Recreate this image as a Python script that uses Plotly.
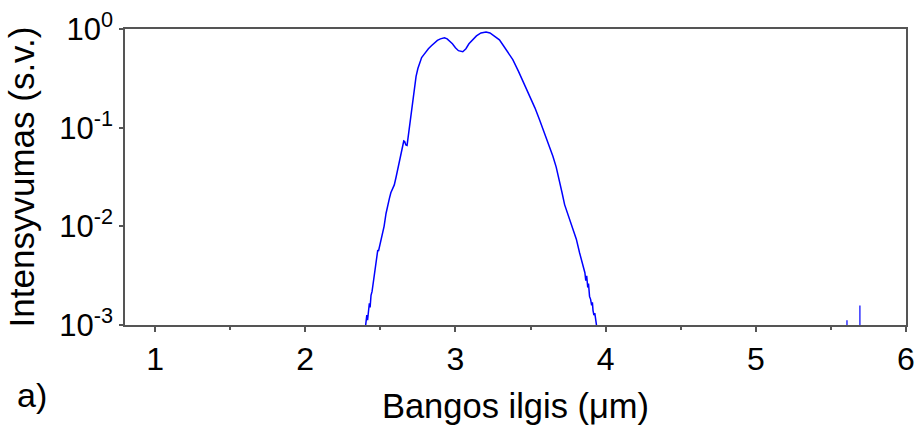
import plotly.graph_objects as go

# Wavelength (um) and intensity (arb. units) of the spectrum
wavelength = [
    2.395, 2.404, 2.410, 2.415, 2.420, 2.427, 2.432, 2.438, 2.445, 2.449,
    2.455, 2.460, 2.466, 2.471, 2.478, 2.483, 2.488, 2.493, 2.500, 2.508,
    2.516, 2.525, 2.538, 2.550, 2.560, 2.570, 2.580, 2.593, 2.605, 2.617,
    2.627, 2.638, 2.649, 2.656, 2.662, 2.670, 2.678, 2.686, 2.693, 2.705,
    2.716, 2.727, 2.738, 2.750, 2.760, 2.775, 2.790, 2.804, 2.820, 2.840,
    2.860, 2.880, 2.900, 2.927, 2.945, 2.960, 2.980, 3.000, 3.020, 3.049,
    3.070, 3.090, 3.116, 3.140, 3.170, 3.204, 3.230, 3.260, 3.293, 3.320,
    3.350, 3.382, 3.420, 3.460, 3.500, 3.530, 3.560, 3.600, 3.630, 3.649,
    3.671, 3.693, 3.710, 3.727, 3.750, 3.782, 3.805, 3.827, 3.850, 3.862,
    3.868, 3.874, 3.881, 3.886, 3.893, 3.900, 3.907, 3.912, 3.916, 3.922,
    3.928, 3.934, 3.940, 3.948,
]
intensity = [
    0.0008, 0.00100, 0.00126, 0.00112, 0.00148, 0.00166, 0.00151, 0.00200, 0.00219, 0.00245,
    0.00282, 0.00339, 0.00398, 0.00457, 0.00525, 0.00575, 0.00562, 0.00603, 0.00676, 0.00759,
    0.00832, 0.0100, 0.0135, 0.0170, 0.0191, 0.0219, 0.0234, 0.0263, 0.0316, 0.0389,
    0.0468, 0.0562, 0.0692, 0.0733, 0.0724, 0.0668, 0.0661, 0.0832, 0.102, 0.141,
    0.191, 0.251, 0.331, 0.398, 0.447, 0.513, 0.550, 0.589, 0.631, 0.676,
    0.724, 0.767, 0.794, 0.813, 0.794, 0.759, 0.708, 0.646, 0.603, 0.589,
    0.631, 0.708, 0.776, 0.851, 0.912, 0.933, 0.912, 0.851, 0.776, 0.676,
    0.575, 0.490, 0.372, 0.275, 0.200, 0.158, 0.120, 0.0832, 0.0617, 0.0513,
    0.0398, 0.0295, 0.0219, 0.0166, 0.0132, 0.00955, 0.00741, 0.00537, 0.00398, 0.00339,
    0.00282, 0.00316, 0.00240, 0.00263, 0.00195, 0.00182, 0.00158, 0.00170, 0.00141, 0.00126,
    0.00132, 0.00112, 0.00100, 0.0008,
]

# Small noise spikes near 5.6-5.7 um
spike_x = [5.607, 5.693]
spike_top = [0.00112, 0.00158]
spike_base = 0.0008

x_ticks = [1, 2, 3, 4, 5, 6]
y_ticks = [1e-3, 1e-2, 1e-1, 1e0]
y_ticktext = ["10<sup>-3</sup>", "10<sup>-2</sup>", "10<sup>-1</sup>", "10<sup>0</sup>"]

FONT = "Arial, Liberation Sans, sans-serif"
AXIS_COLOR = "#555555"

sx, sy = [], []
for xv, top in zip(spike_x, spike_top):
    sx += [xv, xv, None]
    sy += [spike_base, top, None]

fig = go.Figure()
fig.add_trace(go.Scatter(x=wavelength, y=intensity, mode="lines",
                         line=dict(color="#0000FF", width=1.5), showlegend=False))
fig.add_trace(go.Scatter(x=sx, y=sy, mode="lines", connectgaps=False,
                         line=dict(color="#3333FF", width=1.5), showlegend=False))

fig.update_layout(
    width=921, height=433,
    margin=dict(l=125, r=15, t=29, b=108),
    paper_bgcolor="white", plot_bgcolor="white",
    font=dict(family=FONT, color="black"),
    xaxis=dict(
        range=[0.8, 6], tickvals=x_ticks, ticks="outside", ticklen=5, tickwidth=1.5,
        tickcolor=AXIS_COLOR, showline=True, linecolor=AXIS_COLOR, linewidth=1.5,
        mirror=True, showgrid=False, zeroline=False, automargin=False,
        tickfont=dict(size=32, family=FONT),
        minor=dict(dtick=0.5, ticks="outside", ticklen=3, tickcolor=AXIS_COLOR, tickwidth=1.5),
        title=dict(text="Bangos ilgis (μm)", font=dict(size=34.5, family=FONT), standoff=18),
    ),
    yaxis=dict(
        type="log", range=[-3, 0], tickvals=y_ticks, ticktext=y_ticktext,
        ticks="outside", ticklen=4, tickwidth=1.5, tickcolor=AXIS_COLOR,
        showline=True, linecolor=AXIS_COLOR, linewidth=1.5, mirror=True,
        showgrid=False, zeroline=False, automargin=False,
        tickfont=dict(size=31, family=FONT),
        title=dict(text="Intensyvumas (s.v.)", font=dict(size=35, family=FONT), standoff=14),
    ),
    annotations=[dict(text="a)", xref="paper", yref="paper", x=-0.141, y=-0.236,
                      xanchor="left", yanchor="middle", showarrow=False,
                      font=dict(size=34, family=FONT))],
)

fig.write_html("out.html")
